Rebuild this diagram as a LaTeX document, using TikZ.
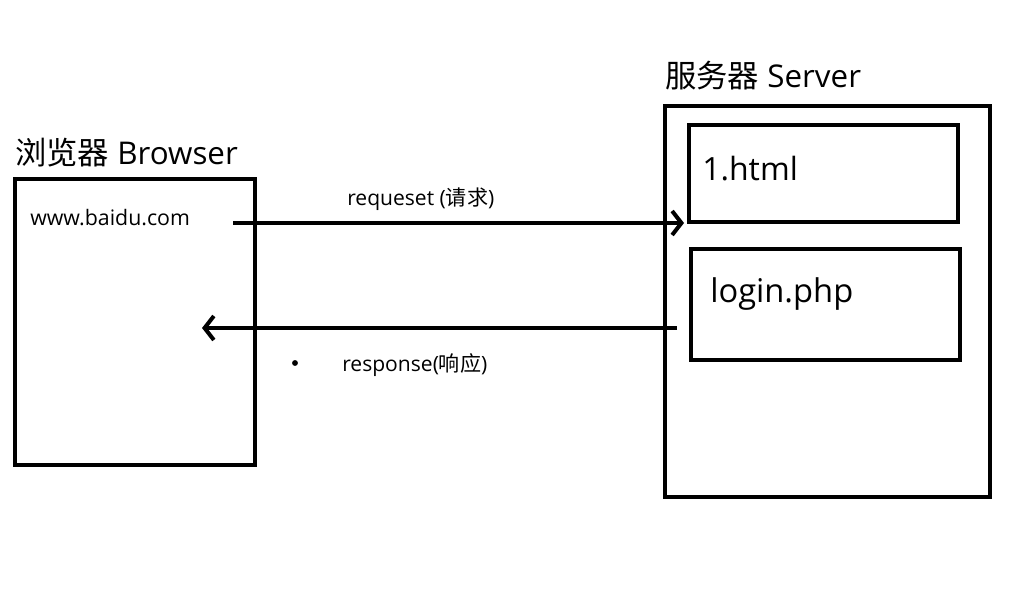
\documentclass[tikz,border=0pt]{standalone}
\usepackage{fontspec}
\setmainfont{Open Sans}
\newfontfamily\cjk{Noto Sans CJK SC}
\usetikzlibrary{arrows.meta}

\begin{document}
\begin{tikzpicture}[x=0.75pt,y=-0.75pt,
        box/.style={draw,line width=3pt,inner sep=0pt,outer sep=0pt},
        label/.style={anchor=base west,inner sep=0pt},
        link/.style={line width=3pt,-{Straight Barb[length=7pt,width=18pt]}}]
    \useasboundingbox (0,0) rectangle (1018,606);

    % browser side
    \node[box,minimum width=180pt,minimum height=214pt] (browser) at (135,322) {};
    \node[label,font=\fontsize{23.5}{26}\selectfont] (browsertitle) at (15,165) {{\cjk 浏览器} Browser};
    \node[label,font=\fontsize{16}{19}\selectfont] (url) at (30,226) {www.baidu.com};

    % server side
    \node[box,minimum width=243.75pt,minimum height=293.25pt] (server) at (827.5,301.5) {};
    \node[label,font=\fontsize{23.5}{26}\selectfont] (servertitle) at (665,88) {{\cjk 服务器} Server};
    \node[box,minimum width=201.4pt,minimum height=72.75pt] (html) at (823.25,174) {};
    \node[label,font=\fontsize{24}{27}\selectfont] (htmltext) at (702,181) {1.html};
    \node[box,minimum width=202.1pt,minimum height=82.9pt] (login) at (825.75,304.75) {};
    \node[label,font=\fontsize{24.5}{27}\selectfont] (logintext) at (710,302) {login.php};

    % request and response
    \coordinate (reqstart) at (233,223);
    \coordinate (reqend) at (684,223);
    \coordinate (respstart) at (677,328);
    \coordinate (respend) at (202,328);
    \draw[link] (reqstart) -- (reqend);
    \draw[link] (respstart) -- (respend);
    \node[label,font=\fontsize{15.8}{18}\selectfont] (reqtext) at (347,206) {requeset ({\cjk 请求})};
    \node[label,font=\fontsize{15.8}{18}\selectfont] (resptext) at (342,371) {response({\cjk 响应})};
    \fill (295,363) circle (2.2pt);
\end{tikzpicture}
\end{document}
